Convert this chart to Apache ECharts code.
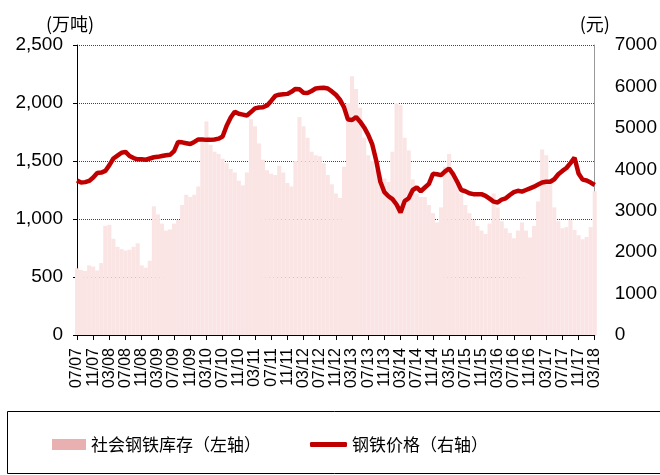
<!DOCTYPE html>
<html>
<head>
<meta charset="utf-8">
<script src="https://cdn.jsdelivr.net/npm/echarts@6/dist/echarts.min.js"></script>
<style>
  html, body { margin: 0; padding: 0; background: #fff; }
  #main { width: 660px; height: 475px; }
</style>
</head>
<body>
<div id="main"></div>
<script>
// 月份（MM/YY），2007年7月 至 2018年3月
var months = [
  '07/07', '08/07', '09/07', '10/07', '11/07', '12/07',
  '01/08', '02/08', '03/08', '04/08', '05/08', '06/08', '07/08', '08/08', '09/08', '10/08', '11/08', '12/08',
  '01/09', '02/09', '03/09', '04/09', '05/09', '06/09', '07/09', '08/09', '09/09', '10/09', '11/09', '12/09',
  '01/10', '02/10', '03/10', '04/10', '05/10', '06/10', '07/10', '08/10', '09/10', '10/10', '11/10', '12/10',
  '01/11', '02/11', '03/11', '04/11', '05/11', '06/11', '07/11', '08/11', '09/11', '10/11', '11/11', '12/11',
  '01/12', '02/12', '03/12', '04/12', '05/12', '06/12', '07/12', '08/12', '09/12', '10/12', '11/12', '12/12',
  '01/13', '02/13', '03/13', '04/13', '05/13', '06/13', '07/13', '08/13', '09/13', '10/13', '11/13', '12/13',
  '01/14', '02/14', '03/14', '04/14', '05/14', '06/14', '07/14', '08/14', '09/14', '10/14', '11/14', '12/14',
  '01/15', '02/15', '03/15', '04/15', '05/15', '06/15', '07/15', '08/15', '09/15', '10/15', '11/15', '12/15',
  '01/16', '02/16', '03/16', '04/16', '05/16', '06/16', '07/16', '08/16', '09/16', '10/16', '11/16', '12/16',
  '01/17', '02/17', '03/17', '04/17', '05/17', '06/17', '07/17', '08/17', '09/17', '10/17', '11/17', '12/17',
  '01/18', '02/18', '03/18'
]

// 社会钢铁库存（万吨，左轴）
var stock = [
  575, 560, 552, 600, 590, 556,
  620, 940, 950, 830, 760, 740, 728, 735, 760, 790, 600, 580,
  640, 1110, 1040, 960, 900, 910, 960, 990, 1120, 1210, 1190, 1210,
  1280, 1700, 1840, 1640, 1580, 1560, 1520, 1480, 1430, 1400, 1330, 1290,
  1400, 1860, 1800, 1650, 1510, 1420, 1390, 1380, 1460, 1400, 1310, 1280,
  1500, 1880, 1800, 1700, 1580, 1550, 1540, 1480, 1380, 1300, 1220, 1180,
  1450, 2000, 2230, 2120, 1960, 1700, 1550, 1500, 1420, 1380, 1350, 1320,
  1580, 2000, 1980, 1700, 1590, 1340, 1220, 1190, 1190, 1120, 1050, 970,
  1100, 1450, 1560, 1410, 1290, 1220, 1120, 1050, 990, 940, 900, 870,
  960, 1220, 1100, 980, 920, 880, 834, 900, 970, 900, 840, 940,
  1150, 1600, 1550, 1300, 1100, 980, 920, 930, 990, 905, 860, 825,
  845, 930, 1240
]

// 钢铁价格（元，右轴）
var price = [
  3730, 3680, 3690, 3720, 3800, 3910,
  3920, 3960, 4100, 4260, 4330, 4400, 4420, 4320, 4270, 4240, 4240, 4230,
  4260, 4290, 4300, 4320, 4340, 4350, 4440, 4660, 4650, 4630, 4610, 4660,
  4720, 4720, 4710, 4710, 4720, 4740, 4790, 5050, 5250, 5390, 5340, 5320,
  5300, 5380, 5470, 5490, 5500, 5540, 5650, 5770, 5800, 5810, 5820, 5870,
  5940, 5930, 5850, 5840, 5890, 5950, 5960, 5970, 5950, 5880, 5800, 5680,
  5500, 5200, 5190, 5260, 5150, 5010, 4830, 4600, 4200, 3700, 3450, 3350,
  3280, 3150, 2960, 3230, 3300, 3500, 3560, 3470, 3560, 3650, 3890, 3880,
  3860, 3950, 4020, 3880, 3700, 3500, 3470, 3420, 3400, 3400, 3400, 3360,
  3290, 3220, 3200, 3270, 3300, 3380, 3450, 3480, 3460, 3500, 3540, 3580,
  3630, 3680, 3700, 3700, 3760, 3880, 3960, 4030, 4150, 4280, 3900, 3750,
  3730, 3680, 3620
]

var legendText = { fontFamily: 'Noto Sans CJK SC', fontSize: 17, color: '#000' }

var myChart = echarts.init(document.getElementById('main'))
var option = {
  animation: false,
  textStyle: { fontFamily: 'Liberation Sans, Arial, sans-serif' },
  grid: { left: 77, right: 58, top: 45, bottom: 140 },
  legend: [
    {
      left: 47,
      top: 431,
      icon: 'rect',
      itemWidth: 34,
      itemHeight: 11,
      textStyle: legendText,
      data: [{ name: '社会钢铁库存（左轴）', itemStyle: { color: '#e8b0b0' } }]
    },
    {
      left: 305,
      top: 431,
      icon: 'roundRect',
      itemWidth: 37,
      itemHeight: 5,
      textStyle: legendText,
      data: [{ name: '钢铁价格（右轴）', itemStyle: { color: '#c00000' } }]
    }
  ],
  graphic: [
    {
      type: 'rect',
      shape: { x: 7.5, y: 411.5, width: 660, height: 62 },
      style: { fill: 'none', stroke: '#000', lineWidth: 1 },
      silent: true
    }
  ],
  xAxis: {
    type: 'category',
    data: months,
    boundaryGap: false,
    axisLine: { lineStyle: { color: '#000', width: 1 } },
    axisTick: { interval: 3, length: 5, lineStyle: { color: '#000' } },
    axisLabel: { interval: 3, rotate: 90, fontSize: 16, color: '#000', margin: 13 }
  },
  yAxis: [
    {
      type: 'value',
      min: 0,
      max: 2500,
      interval: 500,
      name: '(万吨)',
      nameGap: 12,
      nameTextStyle: { fontFamily: 'Noto Sans CJK SC', fontSize: 18, color: '#000', align: 'center', padding: [0, 14, 0, 0] },
      axisLine: { show: true, lineStyle: { color: '#000' } },
      axisTick: { show: true, length: 4, lineStyle: { color: '#000' } },
      axisLabel: { fontSize: 19, color: '#000', margin: 14 },
      splitLine: { lineStyle: { color: '#444', type: 'dotted', width: 1 } }
    },
    {
      type: 'value',
      min: 0,
      max: 7000,
      interval: 1000,
      name: '(元)',
      nameGap: 12,
      nameTextStyle: { fontFamily: 'Noto Sans CJK SC', fontSize: 18, color: '#000', align: 'center' },
      axisLine: { show: true, lineStyle: { color: '#999' } },
      axisTick: { show: false },
      axisLabel: { fontSize: 19, color: '#000', margin: 20, formatter: function (v) { return String(v) } },
      splitLine: { show: false }
    }
  ],
  series: [
    {
      name: '社会钢铁库存（左轴）',
      type: 'bar',
      yAxisIndex: 0,
      barCategoryGap: '0%',
      itemStyle: { color: '#fae4e4' },
      data: stock
    },
    {
      name: '钢铁价格（右轴）',
      type: 'line',
      yAxisIndex: 1,
      symbol: 'none',
      lineStyle: { color: '#c00000', width: 4.5 },
      itemStyle: { color: '#c00000' },
      z: 5,
      data: price
    }
  ]
}
myChart.setOption(option)
</script>
</body>
</html>
